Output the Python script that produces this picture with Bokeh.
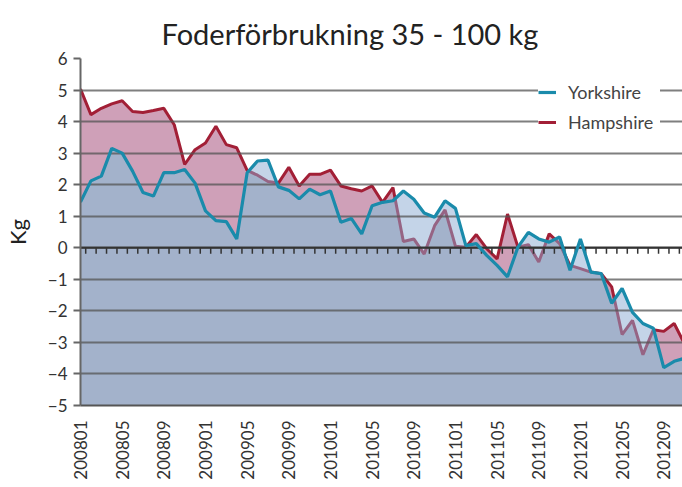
import math
import numpy as np
from bokeh.plotting import figure
from bokeh.models import FixedTicker, Legend, LegendItem, Span, Range1d
from bokeh.embed import file_html
from bokeh.resources import INLINE

months = [
    "200801", "200802", "200803", "200804", "200805", "200806", "200807", "200808",
    "200809", "200810", "200811", "200812", "200901", "200902", "200903", "200904",
    "200905", "200906", "200907", "200908", "200909", "200910", "200911", "200912",
    "201001", "201002", "201003", "201004", "201005", "201006", "201007", "201008",
    "201009", "201010", "201011", "201012", "201101", "201102", "201103", "201104",
    "201105", "201106", "201107", "201108", "201109", "201110", "201111", "201112",
    "201201", "201202", "201203", "201204", "201205", "201206", "201207", "201208",
    "201209", "201210", "201211",
]

yorkshire = [
    1.45, 2.12, 2.27, 3.15, 3.00, 2.43, 1.75, 1.64, 2.38, 2.38,
    2.48, 2.05, 1.17, 0.86, 0.83, 0.28, 2.38, 2.75, 2.78, 1.93,
    1.82, 1.55, 1.86, 1.68, 1.80, 0.81, 0.93, 0.44, 1.33, 1.44,
    1.49, 1.80, 1.54, 1.10, 0.97, 1.49, 1.25, 0.07, 0.13, -0.24,
    -0.56, -0.92, 0.02, 0.49, 0.28, 0.18, 0.34, -0.71, 0.28, -0.77,
    -0.82, -1.76, -1.29, -2.05, -2.40, -2.55, -3.80, -3.60, -3.50,
]

hampshire = [
    5.03, 4.22, 4.42, 4.56, 4.66, 4.32, 4.29, 4.35, 4.42, 3.90,
    2.64, 3.11, 3.32, 3.85, 3.27, 3.17, 2.45, 2.30, 2.10, 2.05,
    2.55, 1.96, 2.33, 2.33, 2.46, 1.96, 1.87, 1.80, 1.96, 1.44,
    1.91, 0.20, 0.28, -0.20, 0.70, 1.20, 0.05, 0.02, 0.42, -0.03,
    -0.35, 1.07, 0.02, 0.10, -0.45, 0.44, 0.13, -0.56, -0.66, -0.77,
    -0.82, -1.24, -2.75, -2.30, -3.39, -2.60, -2.65, -2.40, -3.05,
]

tick_labels = ["200801", "200805", "200809", "200901", "200905", "200909",
               "201001", "201005", "201009", "201101", "201105", "201109",
               "201201", "201205", "201209"]

y_ticks = [-5, -4, -3, -2, -1, 0, 1, 2, 3, 4, 5, 6]

x = np.arange(len(months), dtype=float)
Y = np.array(yorkshire)
H = np.array(hampshire)
label_pos = [months.index(m) for m in tick_labels]

# lower envelope (both series overlap) with crossing points inserted
xm, ym = [], []
for i in range(len(x)):
    xm.append(x[i])
    ym.append(min(H[i], Y[i]))
    if i < len(x) - 1:
        d0 = H[i] - Y[i]
        d1 = H[i + 1] - Y[i + 1]
        if d0 * d1 < 0:
            t = d0 / (d0 - d1)
            xm.append(x[i] + t)
            ym.append(H[i] + t * (H[i + 1] - H[i]))

FONT = "Lato"
YORK = "#1a8bab"
HAMP = "#a21f36"

p = figure(width=682, height=482, x_range=Range1d(0, 57.8), y_range=Range1d(-5, 6),
           output_backend="svg", toolbar_location=None,
           min_border_left=80, min_border_right=0, min_border_top=58, min_border_bottom=74)
p.outline_line_color = None
p.background_fill_color = "white"
p.border_fill_color = "white"

p.title.text = "Foderförbrukning 35 - 100 kg"
p.title.text_font = FONT
p.title.text_font_size = "29px"
p.title.text_font_style = "normal"
p.title.text_color = "#222222"
p.title.align = "left"
p.title.offset = 81
p.title.standoff = 16

# areas
p.varea(x=x, y1=-5, y2=H, fill_color="#cfa0b8", level="image")
p.varea(x=np.array(xm), y1=-5, y2=np.array(ym), fill_color="#bdbbc5", level="image")
hl = p.line(x, H, line_color=HAMP, line_width=3, level="image")
p.varea(x=x, y1=-5, y2=Y, fill_color="#89a9d1", fill_alpha=0.5, level="image")
yl = p.line(x, Y, line_color=YORK, line_width=3.2)

# zero axis with monthly ticks
p.add_layout(Span(location=0, dimension="width", line_color="#333333", line_width=2, level="underlay"))
p.segment(x0=x + 0.5, y0=0, x1=x + 0.5, y1=-0.19, line_color="#333333", line_width=1.5, level="underlay")

# grid
p.xgrid.visible = False
p.ygrid.ticker = FixedTicker(ticks=y_ticks)
p.ygrid.grid_line_color = "#545454"
p.ygrid.grid_line_alpha = 0.75
p.ygrid.grid_line_width = 2

# y axis
ya = p.yaxis[0]
ya.ticker = FixedTicker(ticks=y_ticks)
ya.axis_label = "Kg"
ya.axis_label_text_font = FONT
ya.axis_label_text_font_size = "22px"
ya.axis_label_text_font_style = "normal"
ya.axis_label_text_color = "#222222"
ya.axis_label_standoff = 14
ya.major_label_text_font = FONT
ya.major_label_text_font_size = "17px"
ya.major_label_text_color = "#333333"
ya.axis_line_color = "#666666"
ya.axis_line_width = 2
ya.major_tick_line_color = "#666666"
ya.major_tick_line_width = 2
ya.major_tick_out = 7
ya.major_tick_in = 0
ya.minor_tick_line_color = None
ya.major_label_standoff = 6

# x axis
xa = p.xaxis[0]
xa.ticker = FixedTicker(ticks=label_pos)
xa.major_label_overrides = {pos: lab for pos, lab in zip(label_pos, tick_labels)}
xa.major_label_orientation = math.pi / 2
xa.major_label_text_font = FONT
xa.major_label_text_font_size = "17px"
xa.major_label_text_color = "#333333"
xa.axis_line_color = "#555555"
xa.axis_line_width = 2
xa.major_tick_line_color = None
xa.minor_tick_line_color = None
xa.major_label_standoff = 9

legend = Legend(items=[LegendItem(label="Yorkshire", renderers=[yl]),
                       LegendItem(label="Hampshire", renderers=[hl])],
                location=(458, 272), orientation="vertical",
                background_fill_color="white", background_fill_alpha=1.0,
                border_line_color=None, padding=8, margin=0, spacing=8,
                glyph_width=18, glyph_height=20, label_height=20, label_width=92,
                label_standoff=12, label_text_font=FONT, label_text_font_size="18px",
                label_text_color="#444444")
p.add_layout(legend)

open("out.html", "w").write(file_html(p, INLINE))
